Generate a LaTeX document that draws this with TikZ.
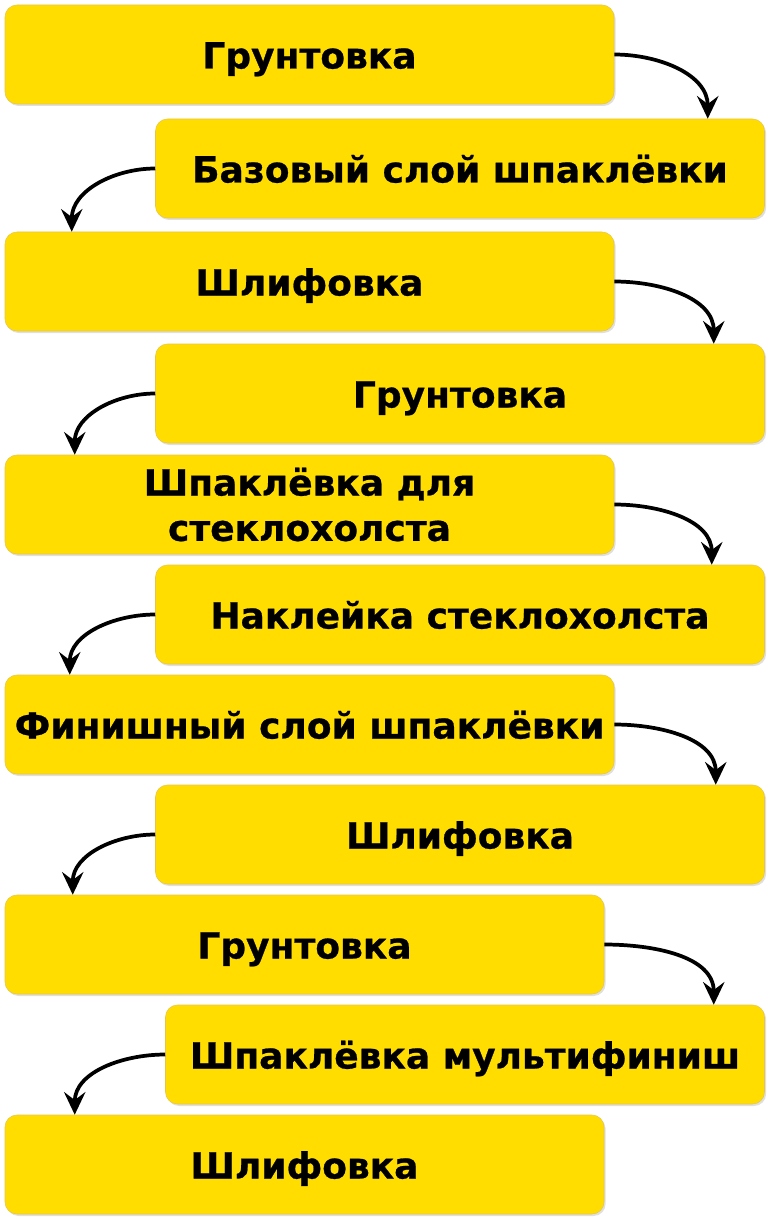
\documentclass[tikz,border=0pt]{standalone}
\usepackage{fontspec}
\setmainfont{DejaVu Sans}
\newfontfamily\stepfont{DejaVu Sans}[BoldFeatures={FakeBold=0.7}]
\usetikzlibrary{arrows.meta,shadows,calc}
\definecolor{stepyellow}{RGB}{255,221,0}
\definecolor{stepedge}{RGB}{232,196,70}

\begin{document}
\begin{tikzpicture}[x=0.75pt,y=-0.75pt,
    stepbox/.style={draw=stepedge,fill=stepyellow,rounded corners=9pt,
      minimum height=74.25pt,inner sep=0pt,
      font=\fontsize{27}{34}\stepfont\bfseries,
      text height=21pt,text depth=0pt,
      drop shadow={opacity=0.25,shadow xshift=1.2pt,shadow yshift=-1.5pt}},
    twoline/.style={align=center,text height=,text depth=},
    wide/.style={minimum width=456.75pt},
    narrow/.style={minimum width=449.25pt},
    flow/.style={line width=2.8pt,-{Stealth[length=17pt,width=16pt,inset=6pt]}}]
        \useasboundingbox (0,0) rectangle (771,1223);

        % steps
        \node[stepbox,wide]   (grunt1)   at (309.5,54.5)  {Грунтовка};
        \node[stepbox,wide]   (baza)     at (460,168.5)   {Базовый слой шпаклёвки};
        \node[stepbox,wide]   (shlif1)   at (309.5,281.5) {Шлифовка};
        \node[stepbox,wide]   (grunt2)   at (460,393.5)   {Грунтовка};
        \node[stepbox,wide,twoline] (steklo) at (309.5,504.5) {Шпаклёвка для\\стеклохолста};
        \node[stepbox,wide]   (nakleyka) at (460,614.5)   {Наклейка стеклохолста};
        \node[stepbox,wide]   (finish)   at (309.5,724.5) {Финишный слой шпаклёвки};
        \node[stepbox,wide]   (shlif2)   at (460,834.5)   {Шлифовка};
        \node[stepbox,narrow] (grunt3)   at (304.5,944.5) {Грунтовка};
        \node[stepbox,narrow] (multi)    at (465,1054.5)  {Шпаклёвка мультифиниш};
        \node[stepbox,narrow] (shlif3)   at (304.5,1164.5) {Шлифовка};

        % to the right
        \draw[flow] (grunt1.east) to[out=0,in=90] ($(baza.north east)+(-57,0)$);
        \draw[flow] (shlif1.east) to[out=0,in=90] ($(grunt2.north east)+(-51,0)$);
        \draw[flow] (steklo.east) to[out=0,in=90] ($(nakleyka.north east)+(-53,0)$);
        \draw[flow] (finish.east) to[out=0,in=90] ($(shlif2.north east)+(-49,0)$);
        \draw[flow] (grunt3.east) to[out=0,in=90] ($(multi.north east)+(-51,0)$);

        % to the left
        \draw[flow] (baza.west) to[out=180,in=90] ($(shlif1.north west)+(67,0)$);
        \draw[flow] (grunt2.west) to[out=180,in=90] ($(steklo.north west)+(70,0)$);
        \draw[flow] (nakleyka.west) to[out=180,in=90] ($(finish.north west)+(65,0)$);
        \draw[flow] (shlif2.west) to[out=180,in=90] ($(grunt3.north west)+(68,0)$);
        \draw[flow] (multi.west) to[out=180,in=90] ($(shlif3.north west)+(70,0)$);
    \end{tikzpicture}
\end{document}
